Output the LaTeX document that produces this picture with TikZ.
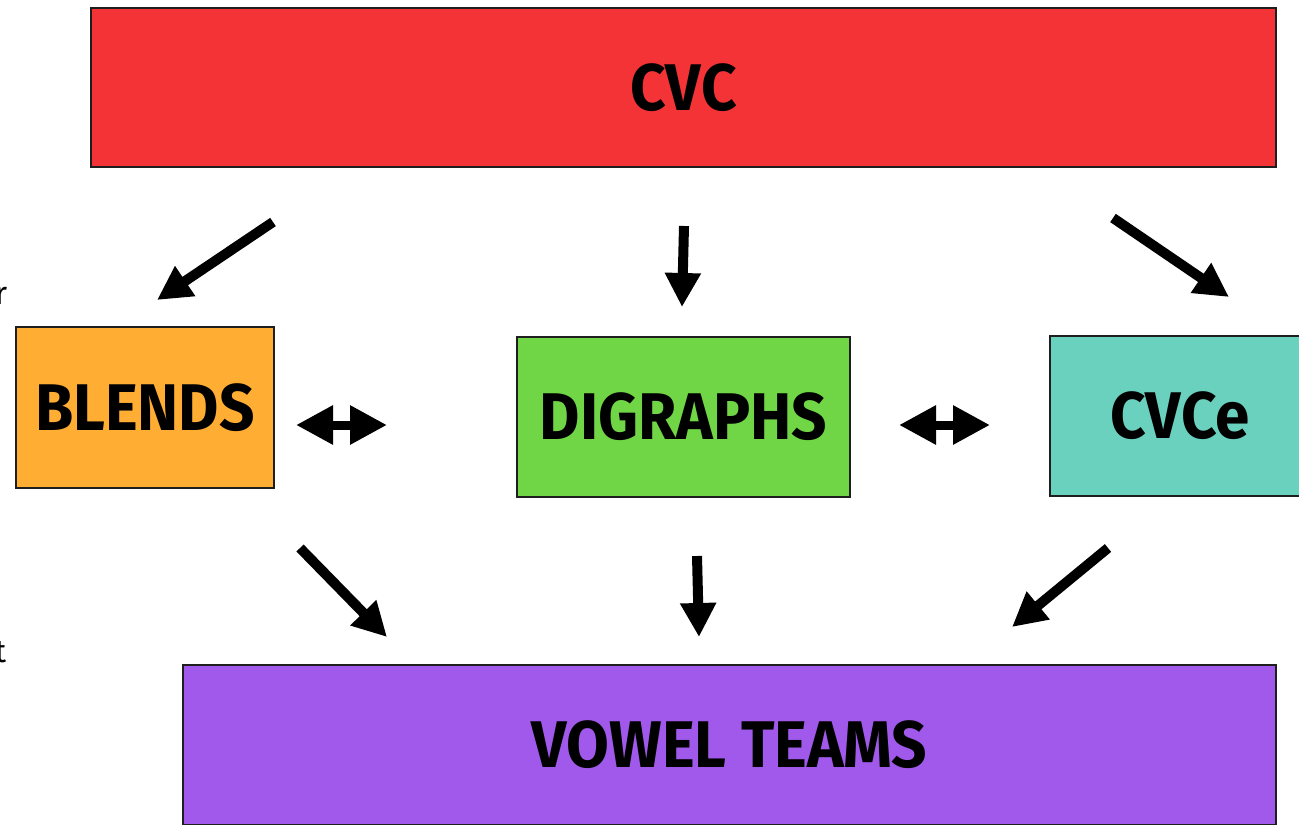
\documentclass[tikz,border=0pt]{standalone}
\usepackage{fontspec}
\setmainfont{Fira Sans}
\newfontfamily\boxfont[FakeStretch=0.94]{Fira Sans}
\usetikzlibrary{arrows.meta}

\definecolor{cvcred}{RGB}{243,51,54}
\definecolor{blendorange}{RGB}{255,173,51}
\definecolor{digreen}{RGB}{112,214,70}
\definecolor{cvceteal}{RGB}{106,209,190}
\definecolor{vowelpurple}{RGB}{161,89,236}

\tikzset{every picture/.style={line width=0.75pt}}
\tikzset{
  box/.style={draw={rgb,255:red,30;green,30;blue,30}, line width=1.2pt, inner sep=0pt,
    font=\boxfont\bfseries\fontsize{33}{33}\selectfont},
  flow/.style={line width=5pt, -{Triangle[length=17pt,width=17pt]}},
  swap/.style={line width=4.5pt, {Triangle[length=18.5pt,width=18.5pt]}-{Triangle[length=18.5pt,width=18.5pt]}}
}

\begin{document}
\begin{tikzpicture}[x=0.5pt,y=0.5pt,yscale=-1,xscale=1]
\useasboundingbox (0,0) rectangle (1299,824);

%Shape: Rectangle [CVC]
\node [box, fill=cvcred, minimum width=592.5pt, minimum height=79.5pt] (cvc) at (683.5,87.5) {CVC};
%Shape: Rectangle [BLENDS]
\node [box, fill=blendorange, minimum width=129pt, minimum height=80.5pt] (blends) at (145,407.5) {BLENDS};
%Shape: Rectangle [DIGRAPHS]
\node [box, fill=digreen, minimum width=166.5pt, minimum height=80pt] (digraphs) at (683.5,417) {DIGRAPHS};
%Shape: Rectangle [CVCe]
\node [box, fill=cvceteal, minimum width=130pt, minimum height=80pt] (cvce) at (1180,416) {CVCe};
%Shape: Rectangle [VOWEL TEAMS]
\node [box, fill=vowelpurple, minimum width=546.5pt, minimum height=80pt] (vowel) at (729.5,745) {VOWEL TEAMS};

% Text Node (cut at the left edge)
\node [anchor=east, font=\fontsize{16}{16}\selectfont, inner sep=0pt] (cutr) at (8,296) {r};
% Text Node (cut at the left edge)
\node [anchor=east, font=\fontsize{16}{16}\selectfont, inner sep=0pt] (cutt) at (7,652) {t};

%Straight Lines [arrow ends]
\coordinate (a1s) at (273,222);  \coordinate (a1e) at (157,300);
\coordinate (a2s) at (684,226);  \coordinate (a2e) at (682,307);
\coordinate (a3s) at (1113,218); \coordinate (a3e) at (1229,297);
\coordinate (a4s) at (300,548);  \coordinate (a4e) at (387,637);
\coordinate (a5s) at (697,556);  \coordinate (a5e) at (699,637);
\coordinate (a6s) at (1108,548); \coordinate (a6e) at (1012,627);
\coordinate (d1s) at (296,425);  \coordinate (d1e) at (387,425);
\coordinate (d2s) at (899,425);  \coordinate (d2e) at (990,425);

%Straight Lines [from CVC]
\draw [flow] (a1s) -- (a1e);
\draw [flow] (a2s) -- (a2e);
\draw [flow] (a3s) -- (a3e);
%Straight Lines [into VOWEL TEAMS]
\draw [flow] (a4s) -- (a4e);
\draw [flow] (a5s) -- (a5e);
\draw [flow] (a6s) -- (a6e);
%Straight Lines [both ways]
\draw [swap] (d1s) -- (d1e);
\draw [swap] (d2s) -- (d2e);

\end{tikzpicture}
\end{document}
